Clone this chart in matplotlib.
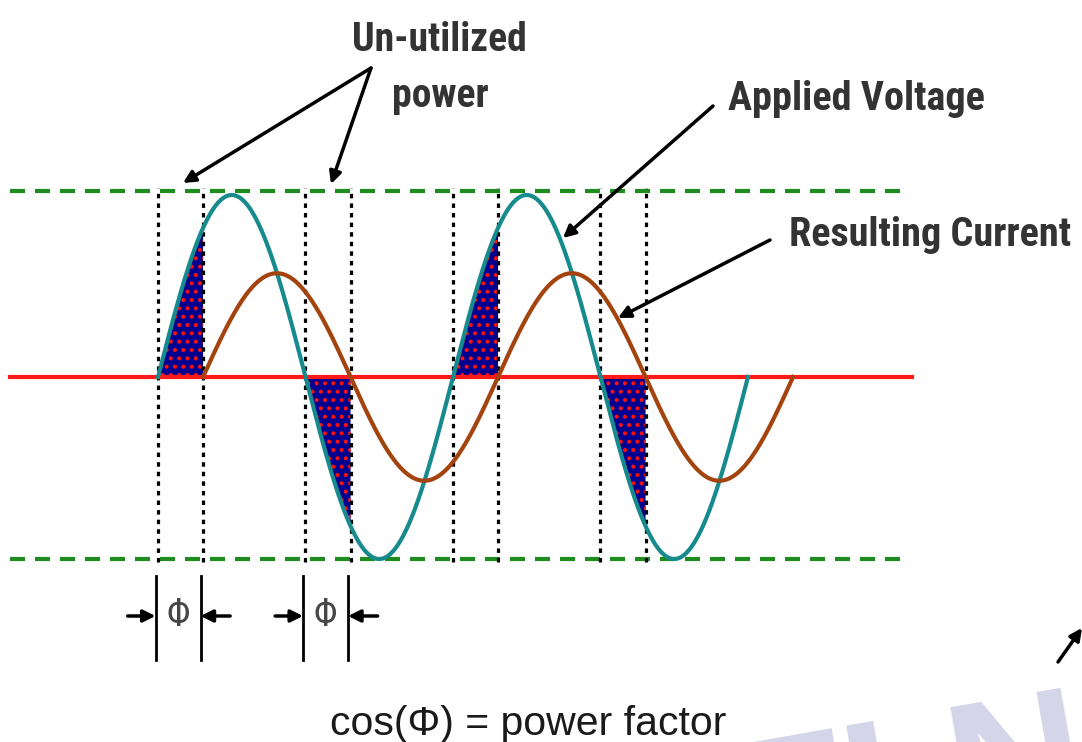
import numpy as np
import matplotlib.pyplot as plt

# waveform data (phase in degrees, amplitude relative to the voltage peak)
voltage_amp = 1.0
current_amp = 0.57
phase_lag = 55                      # current lags voltage by this many degrees
voltage_span = [0, 720]
current_span = [55, 775]
voltage_zeros = [0, 180, 360, 540]
current_zeros = [55, 235, 415, 595]
guide_levels = [1.02, -1.0]
phi_pairs = [(0, 55), (180, 235)]

# labels
title_top = "Un-utilized"
title_bottom = "power"
voltage_label = "Applied Voltage"
current_label = "Resulting Current"
phi_label = "\u03a6"
formula = "cos(\u03a6) = power factor"
watermark = "TI N"

# pixel layout of the picture
W, H = 1082, 742
X0, SX = 158, 0.8194     # px of phase 0, px per degree
Y0, SY = 377, 182        # px of zero line, px per unit amplitude


def px(x, y):
    '''Convert picture pixels to data coordinates'''
    return ((x - X0) / SX, (Y0 - y) / SY)


plt.rcParams['hatch.linewidth'] = 1.7
narrow = ['Roboto Condensed', 'PT Sans Narrow', 'DejaVu Sans']
plain = ['Liberation Sans', 'DejaVu Sans']

fig = plt.figure(figsize=(W / 100, H / 100), dpi=100)
ax = fig.add_axes([0, 0, 1, 1])
ax.set_xlim(px(0, 0)[0], px(W, 0)[0])
ax.set_ylim(px(0, H)[1], px(0, 0)[1])
ax.axis('off')

# faint watermark behind everything
ax.text(*px(742, 876), watermark, fontsize=137, fontweight='bold',
        color='#d5d5e9', rotation=10, rotation_mode='anchor', ha='left',
        va='baseline', family=plain, zorder=0)

# shaded un-utilized areas
for vz, iz in zip(voltage_zeros, current_zeros):
    t = np.linspace(vz, iz, 60)
    ax.fill_between(t, voltage_amp * np.sin(np.radians(t)), 0,
                    facecolor='#000090', edgecolor='#ff1010', hatch='..',
                    linewidth=0, zorder=1)

# zero line and peak guides
ax.axhline(0, xmin=10 / W, xmax=912 / W, color='#ff1a1a', lw=3, zorder=3)
for lvl in guide_levels:
    ax.axhline(lvl, xmin=10 / W, xmax=910 / W, color='#1e8c1e', lw=3,
               dashes=(3.6, 2.4), zorder=2)

# dotted markers at zero crossings
for x in voltage_zeros + current_zeros:
    ax.plot([x, x], [px(0, 562)[1], px(0, 188)[1]], color='black', lw=2.3,
            dashes=(1.4, 1.6), zorder=2)

# waveforms
tv = np.linspace(voltage_span[0], voltage_span[1], 800)
ti = np.linspace(current_span[0], current_span[1], 800)
ax.plot(tv, voltage_amp * np.sin(np.radians(tv)), color='#168a8c', lw=3,
        zorder=4)
ax.plot(ti, current_amp * np.sin(np.radians(ti - phase_lag)), color='#a3440e',
        lw=3, zorder=4)

# phase angle markers
arrow = dict(arrowstyle='-|>', lw=2.5, color='black', mutation_scale=18,
             shrinkA=0, shrinkB=0)
y_lo, y_hi, y_ar = px(0, 660)[1], px(0, 576)[1], px(0, 616)[1]
for a, b in phi_pairs:
    ax.plot([a - 3, a - 3], [y_lo, y_hi], color='black', lw=2)
    ax.plot([b - 3, b - 3], [y_lo, y_hi], color='black', lw=2)
    ax.annotate('', xy=(a - 3, y_ar), xytext=(a - 37, y_ar), arrowprops=arrow)
    ax.annotate('', xy=(b - 3, y_ar), xytext=(b + 33, y_ar), arrowprops=arrow)
    ax.text((a + b) / 2 - 3, y_ar, phi_label, fontsize=27, color='#474747',
            ha='center', va='center', family=narrow)

# labels and pointers
txt = dict(fontweight='bold', color='#333333', family=narrow, va='baseline')
ax.text(*px(439, 51), title_top, fontsize=28.5, ha='center', **txt)
ax.text(*px(440, 107), title_bottom, fontsize=28.5, ha='center', **txt)
ax.text(*px(728, 110), voltage_label, fontsize=29, ha='left', **txt)
ax.text(*px(789, 246), current_label, fontsize=29, ha='left', **txt)

ax.annotate('', xy=px(183, 183), xytext=px(371, 68), arrowprops=arrow)
ax.annotate('', xy=px(331, 184), xytext=px(371, 68), arrowprops=arrow)
ax.annotate('', xy=px(563, 238), xytext=px(713, 106), arrowprops=arrow)
ax.annotate('', xy=px(618, 318), xytext=px(770, 240), arrowprops=arrow)
ax.annotate('', xy=px(1082, 628), xytext=px(1058, 662), arrowprops=arrow)

ax.text(*px(528, 735), formula, fontsize=29.5, color='#1a1a1a', ha='center',
        va='baseline', family=plain)

fig.savefig('out.png', dpi=100)
